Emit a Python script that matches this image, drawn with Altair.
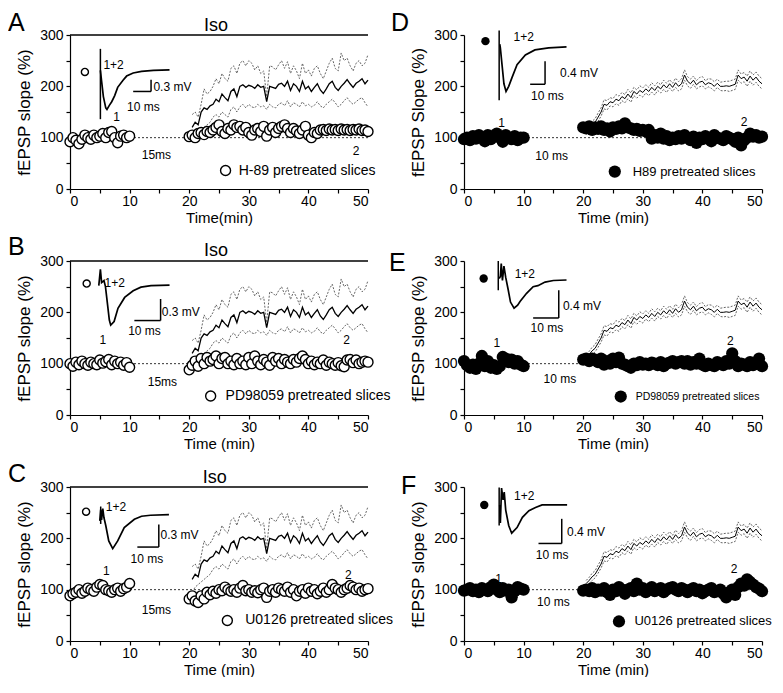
import altair as alt
import pandas as pd

FONT = "Liberation Sans"

# ---------------- time grids ----------------
base_t = [i * 0.5 for i in range(21)]          # 0 .. 10 min
post_t = [20 + i * 0.5 for i in range(61)]     # 20 .. 50 min
line_t = [20.5 + i * 0.5 for i in range(60)]   # 20.5 .. 50 min

# ---------------- scatter values (fEPSP slope %) ----------------
A_base = [92, 100, 95, 88, 97, 105, 100, 97, 105, 100, 103, 108, 100, 110, 112, 100, 90, 103, 105, 100, 103]
A_post = [102, 105, 100, 108, 110, 106, 112, 110, 115, 120,
          125, 112, 108, 118, 115, 125, 120, 122, 115, 120,
          110, 105, 115, 118, 112, 122, 103, 115, 120, 110,
          118, 122, 125, 118, 110, 118, 113, 108, 115, 122,
          105, 100, 110, 108, 115, 116, 114, 117, 115, 116,
          114, 117, 115, 116, 114, 116, 115, 117, 114, 115,
          112]
B_base = [100, 95, 103, 98, 105, 100, 97, 103, 100, 98, 107, 101, 104, 108, 98, 105, 100, 103, 97, 102, 93]
B_post = [88, 97, 105, 95, 110, 100, 112, 105, 108, 115,
          100, 110, 112, 100, 105, 98, 110, 100, 105, 98,
          112, 100, 115, 105, 98, 108, 103, 97, 112, 105,
          110, 100, 108, 103, 100, 108, 103, 110, 115, 108,
          100, 105, 98, 103, 100, 107, 97, 103, 100, 97,
          102, 96, 94, 107, 108, 102, 107, 100, 103, 105,
          103]
C_base = [88, 92, 95, 100, 93, 97, 103, 100, 97, 105, 110, 108, 100, 98, 95, 100, 103, 97, 102, 105, 112]
C_post = [82, 88, 78, 75, 88, 82, 95, 90, 97, 93,
          100, 98, 105, 100, 97, 100, 95, 103, 108, 98,
          100, 95, 98, 94, 100, 103, 85, 97, 100, 95,
          103, 100, 97, 105, 95, 100, 88, 97, 100, 93,
          103, 97, 100, 92, 97, 103, 95, 100, 110, 103,
          100, 95, 100, 103, 108, 105, 100, 103, 97, 100,
          102]
D_base = [97, 100, 95, 103, 98, 105, 100, 93, 105, 97, 103, 108, 100, 92, 105, 100, 97, 103, 95, 100, 100]
D_post = [120, 118, 122, 115, 120, 117, 122, 115, 118, 112,
          120, 117, 122, 118, 128, 120, 118, 115, 117, 113,
          115, 112, 115, 98, 105, 100, 108, 98, 103, 95,
          100, 97, 103, 98, 105, 100, 95, 102, 90, 100,
          97, 103, 98, 93, 105, 100, 98, 95, 103, 100,
          97, 92, 100, 85, 95, 100, 108, 102, 105, 100,
          102]
E_base = [105, 97, 92, 98, 90, 100, 115, 95, 105, 92, 97, 90, 95, 113, 110, 103, 108, 100, 105, 98, 95]
E_post = [108, 110, 105, 110, 108, 103, 110, 98, 105, 100,
          110, 103, 112, 100, 98, 95, 92, 100, 97, 103,
          98, 100, 97, 102, 100, 97, 103, 95, 100, 102,
          105, 100, 103, 105, 100, 105, 98, 103, 100, 110,
          98, 95, 100, 97, 95, 103, 100, 97, 105, 100,
          120, 105, 95, 100, 98, 95, 103, 97, 100, 110,
          95]
F_base = [98, 100, 103, 97, 100, 95, 103, 100, 97, 105, 110, 100, 95, 103, 98, 100, 85, 97, 105, 102, 100]
F_post = [98, 100, 97, 103, 95, 100, 98, 103, 95, 90,
          100, 97, 105, 100, 92, 100, 103, 97, 112, 100,
          103, 95, 100, 105, 97, 100, 103, 95, 100, 103,
          105, 100, 97, 103, 100, 95, 100, 103, 97, 100,
          93, 97, 100, 103, 95, 97, 100, 92, 85, 95,
          100, 90, 105, 112, 108, 120, 115, 110, 105, 102,
          97]

# ---------------- Iso (control) curves ----------------
iso_mean_L = [120, 130, 125, 150, 158, 155, 162, 165, 175, 170,
              185, 178, 172, 190, 195, 180, 200, 203, 198, 202,
              200, 196, 203, 198, 200, 170, 200, 198, 196, 204,
              206, 200, 210, 192, 205, 200, 190, 210, 195, 200,
              190, 198, 205, 193, 186, 195, 205, 210, 198, 192,
              200, 206, 213, 205, 198, 206, 210, 215, 205, 212]
iso_upper_L = [145, 150, 140, 165, 195, 185, 190, 200, 215, 205,
               225, 215, 210, 235, 240, 225, 245, 250, 240, 250,
               245, 232, 240, 225, 230, 180, 240, 238, 232, 242,
               250, 235, 248, 225, 240, 230, 215, 245, 225, 232,
               220, 235, 240, 225, 215, 230, 245, 255, 235, 230,
               265, 250, 255, 240, 230, 245, 250, 240, 245, 262]
iso_lower_L = [95, 105, 110, 115, 120, 125, 130, 140, 145, 140,
               150, 145, 140, 155, 160, 150, 160, 165, 158, 165,
               160, 158, 165, 160, 162, 155, 165, 160, 158, 165,
               168, 162, 172, 160, 168, 165, 160, 170, 162, 165,
               160, 163, 170, 162, 158, 165, 170, 175, 168, 160,
               165, 172, 178, 170, 165, 170, 175, 178, 168, 160]
iso_mean_R = [112, 118, 125, 130, 140, 150, 165, 163, 170, 168,
              175, 172, 180, 176, 185, 178, 190, 185, 192, 188,
              195, 190, 198, 192, 200, 195, 203, 197, 205, 198,
              207, 200, 205, 222, 210, 205, 212, 203, 208, 210,
              203, 207, 205, 200, 206, 200, 200, 201, 200, 202,
              204, 222, 215, 218, 210, 220, 212, 218, 210, 205]
iso_sem_R = [6, 6, 7, 7, 8, 8, 9, 9, 8, 8,
             9, 9, 8, 8, 9, 9, 8, 8, 9, 9,
             8, 8, 9, 9, 8, 8, 9, 9, 8, 8,
             9, 9, 10, 10, 9, 9, 8, 8, 9, 9,
             8, 8, 9, 9, 8, 8, 9, 9, 10, 10,
             10, 10, 9, 9, 10, 10, 10, 10, 10, 10]

# ---------------- inset fEPSP traces (drawn in panel units) ----------------
trace_A_t = [5.1, 5.3, 5.6, 6.0, 6.2, 6.6, 7.0, 7.5, 8.0, 8.9, 9.5, 10.6, 12, 14, 16.7]
trace_A_v = [231, 210, 180, 158, 155, 163, 170, 182, 198, 212, 220, 226, 229, 231, 232]
trace_B_t = [4.83, 5.1, 5.3, 5.7, 5.95, 6.3, 6.6, 6.83, 7.4, 8.05, 9.17, 10.6, 11.9, 13.6, 16.7]
trace_B_v = [252, 284, 258, 262, 250, 215, 185, 175, 182, 208, 229, 242, 249, 252, 253]
trace_C_t = [5.0, 5.15, 5.3, 5.5, 5.7, 6.0, 6.5, 7.17, 8.0, 9.1, 10.8, 12.0, 13.5, 16.6]
trace_C_v = [234, 256, 236, 258, 240, 225, 195, 180, 195, 221, 237, 243, 245, 246]
trace_D_t = [6.0, 6.1, 6.4, 6.7, 7.05, 7.5, 8.05, 8.9, 10.3, 11.9, 14.2, 17.2]
trace_D_v = [282, 275, 240, 205, 190, 200, 217, 242, 261, 271, 275, 277]
trace_E_t = [5.9, 6.1, 6.25, 6.45, 6.7, 7.0, 7.4, 7.8, 8.4, 9.0, 9.4, 10.5, 11.6, 12.4, 13.6, 15, 17.2]
trace_E_v = [266, 270, 295, 262, 290, 268, 245, 220, 208, 214, 221, 237, 250, 252, 259, 262, 263]
trace_F_t = [6.0, 6.1, 6.3, 6.55, 6.75, 7.0, 7.5, 8.0, 8.9, 9.8, 10.9, 12, 13.1, 17.3]
trace_F_v = [265, 230, 298, 275, 290, 255, 225, 210, 221, 241, 254, 260, 265, 265]

# stimulus artifacts and scale bars: (x, x2, y, y2)
rules_A = [(5.1, 5.1, 136, 273), (13.6, 13.6, 190, 213), (10.6, 13.6, 190, 190)]
rules_B = [(15.2, 15.2, 184, 226), (10.8, 15.2, 184, 184)]
rules_C = [(5.15, 5.15, 228, 262), (14.9, 14.9, 183, 227), (11.3, 14.9, 183, 183)]
rules_D = [(5.9, 5.9, 173, 309), (13.6, 13.6, 204, 249), (11.1, 13.6, 204, 204)]
rules_E = [(5.75, 5.75, 243, 300), (15.9, 15.9, 189, 243), (11.6, 15.9, 189, 189)]
rules_F = [(5.9, 5.9, 225, 299), (16.4, 16.4, 190, 238), (12.5, 16.4, 190, 190)]

# text annotations: (t, v, label, fontsize)
left_A = [(5.6, 241, "1+2", 12), (14.0, 199, "0.3 mV", 12), (28.3, 36, "H-89 pretreated slices", 14)]
center_A = [(12.3, 160, "10 ms", 12), (7.8, 141, "1", 12), (48, 75, "2", 12), (14.5, 67, "15ms", 12), (24.5, 317, "Iso", 18)]
left_B = [(5.8, 258, "1+2", 12), (15.4, 200, "0.3 mV", 12), (26.1, 37, "PD98059 pretreated slices", 14)]
center_B = [(12.5, 163, "10 ms", 12), (5.5, 146, "1", 12), (46.4, 146, "2", 12), (15.5, 65, "15ms", 12), (24.5, 319, "Iso", 18)]
left_C = [(6.0, 262, "1+2", 12), (15.2, 206, "0.3 mV", 12), (29.4, 40, "U0126 pretreated slices", 14)]
center_C = [(12.9, 160, "10 ms", 12), (6.1, 136, "1", 12), (46.7, 128, "2", 12), (14.5, 61, "15ms", 12), (24.3, 317, "Iso", 18)]
left_D = [(8.3, 296, "1+2", 12), (16.1, 226, "0.4 mV", 12), (28.3, 34, "H89 pretreated slices", 13)]
center_D = [(14.0, 182, "10 ms", 12), (6.3, 129, "1", 12), (47, 131, "2", 12), (14.7, 65, "10 ms", 12)]
left_E = [(8.5, 275, "1+2", 12), (16.6, 212, "0.4 mV", 12), (28.8, 36, "PD98059 pretreated slices", 10.5)]
center_E = [(13.9, 170, "10 ms", 12), (5.5, 141, "1", 12), (44.7, 145, "2", 12), (16.1, 71, "10 ms", 12)]
left_F = [(8.4, 283, "1+2", 12), (17.3, 213, "0.4 mV", 12), (28.6, 38, "U0126 pretreated slices", 13)]
center_F = [(14.8, 168, "10 ms", 12), (5.8, 120, "1", 12), (45.3, 140, "2", 12), (15.0, 76, "10 ms", 12)]

# symbol markers: (t, v, size)
marks_A = [(2.5, 228, 50), (26.1, 36, 100)]
marks_B = [(2.8, 256, 50), (23.6, 37, 100)]
marks_C = [(2.7, 252, 50), (26.4, 40, 100)]
marks_D = [(3.6, 288, 70), (25.3, 34, 150)]
marks_E = [(3.3, 266, 70), (26.3, 36, 150)]
marks_F = [(3.4, 265, 70), (26.0, 38, 150)]

W, H = 298, 154


def panel(letter, lxy, base, post, filled, trace_t, trace_v, rules, left, center, marks,
          curves, iso_bar, xtitle, ytitle):
    sx = alt.Scale(domain=[0, 50], nice=False)
    sy = alt.Scale(domain=[0, 300], nice=False)
    ax_x = alt.Axis(title=xtitle, values=list(range(0, 51, 5)),
                    labelExpr="datum.value % 10 == 0 ? datum.label : ''")
    ax_y = alt.Axis(title=ytitle, values=list(range(0, 301, 50)),
                    labelExpr="datum.value % 100 == 0 ? datum.label : ''")

    def X(f):
        return alt.X(f, type="quantitative", scale=sx, axis=ax_x)

    def Y(f):
        return alt.Y(f, type="quantitative", scale=sy, axis=ax_y)

    layers = []
    if iso_bar:
        layers.append(alt.Chart(pd.DataFrame({"x": [0], "x2": [50], "y": [300]}))
                      .mark_rule(color="black", strokeWidth=1.3)
                      .encode(x=X("x"), x2=alt.X2("x2"), y=Y("y")))
    layers.append(alt.Chart(pd.DataFrame({"t": [0, 50], "v": [100, 100]}))
                  .mark_line(color="#333", strokeDash=[2, 2], strokeWidth=1)
                  .encode(x=X("t"), y=Y("v")))
    mean, upper, lower = curves
    bands = pd.DataFrame({"t": line_t * 2, "v": upper + lower,
                          "s": ["u"] * len(line_t) + ["l"] * len(line_t)})
    layers.append(alt.Chart(bands).mark_line(color="#666", strokeDash=[2, 1.5], strokeWidth=1)
                  .encode(x=X("t"), y=Y("v"), detail="s:N"))
    layers.append(alt.Chart(pd.DataFrame({"t": line_t, "v": mean}))
                  .mark_line(color="black", strokeWidth=1.3 if iso_bar else 1)
                  .encode(x=X("t"), y=Y("v")))
    pts = pd.DataFrame({"t": base_t + post_t, "v": base + post})
    if filled:
        pm = alt.Chart(pts).mark_circle(color="black", opacity=1, size=150)
    else:
        pm = alt.Chart(pts).mark_circle(fill="white", stroke="black", strokeWidth=1.4,
                                        opacity=1, fillOpacity=1, size=100)
    layers.append(pm.encode(x=X("t"), y=Y("v")))
    tr = pd.DataFrame({"t": trace_t, "v": trace_v, "i": list(range(len(trace_t)))})
    layers.append(alt.Chart(tr).mark_line(color="black", strokeWidth=1.7)
                  .encode(x=X("t"), y=Y("v"), order="i:Q"))
    rd = pd.DataFrame(rules, columns=["x", "x2", "y", "y2"])
    layers.append(alt.Chart(rd).mark_rule(color="black", strokeWidth=1.5)
                  .encode(x=X("x"), x2=alt.X2("x2"), y=Y("y"), y2=alt.Y2("y2")))
    ld = pd.DataFrame(left, columns=["t", "v", "label", "fs"])
    layers.append(alt.Chart(ld).mark_text(align="left", baseline="middle", font=FONT, color="black")
                  .encode(x=X("t"), y=Y("v"), text="label:N",
                          size=alt.Size("fs:Q", scale=None, legend=None)))
    cd = pd.DataFrame(center, columns=["t", "v", "label", "fs"])
    layers.append(alt.Chart(cd).mark_text(align="center", baseline="middle", font=FONT, color="black")
                  .encode(x=X("t"), y=Y("v"), text="label:N",
                          size=alt.Size("fs:Q", scale=None, legend=None)))
    md = pd.DataFrame(marks, columns=["t", "v", "sz"])
    if filled:
        mm = alt.Chart(md).mark_circle(color="black", opacity=1)
    else:
        mm = alt.Chart(md).mark_circle(fill="white", stroke="black", strokeWidth=1.4,
                                       opacity=1, fillOpacity=1)
    layers.append(mm.encode(x=X("t"), y=Y("v"), size=alt.Size("sz:Q", scale=None, legend=None)))
    layers.append(alt.Chart(pd.DataFrame({"a": [0]}))
                  .mark_text(text=letter, align="left", baseline="alphabetic", font=FONT,
                             fontSize=25, color="black")
                  .encode(x=alt.value(lxy[0]), y=alt.value(lxy[1])))
    return alt.layer(*layers).properties(width=W, height=H)


left_curves = (iso_mean_L, iso_upper_L, iso_lower_L)
right_curves = (iso_mean_R,
                [m + s for m, s in zip(iso_mean_R, iso_sem_R)],
                [m - s for m, s in zip(iso_mean_R, iso_sem_R)])

pA = panel("A", (-62, -4), A_base, A_post, False, trace_A_t, trace_A_v, rules_A, left_A, center_A,
           marks_A, left_curves, True, "Time(min)", "fEPSP slope (%)")
pB = panel("B", (-62, -6), B_base, B_post, False, trace_B_t, trace_B_v, rules_B, left_B, center_B,
           marks_B, left_curves, True, "Time (min)", "fEPSP slope (%)")
pC = panel("C", (-62, -5), C_base, C_post, False, trace_C_t, trace_C_v, rules_C, left_C, center_C,
           marks_C, left_curves, True, "Time (min)", "fEPSP slope (%)")
pD = panel("D", (-73, -4), D_base, D_post, True, trace_D_t, trace_D_v, rules_D, left_D, center_D,
           marks_D, right_curves, False, "Time (min)", "fEPSP Slope (%)")
pE = panel("E", (-75, 10), E_base, E_post, True, trace_E_t, trace_E_v, rules_E, left_E, center_E,
           marks_E, right_curves, False, "Time (min)", "fEPSP slope (%)")
pF = panel("F", (-63, 7), F_base, F_post, True, trace_F_t, trace_F_v, rules_F, left_F, center_F,
           marks_F, right_curves, False, "Time (min)", "fEPSP slope (%)")

chart = (alt.concat(pA, pD, pB, pE, pC, pF, columns=2,
                    spacing={"row": 72, "column": 96}, bounds="flush")
         .properties(padding={"left": 0, "top": 3, "right": 0, "bottom": 0})
         .configure_view(stroke=None)
         .configure_axis(labelFont=FONT, titleFont=FONT, labelFontSize=14, titleFontSize=15,
                         titleFontWeight="normal", labelColor="black", titleColor="black",
                         domainColor="black", tickColor="black", tickSize=4, domainWidth=1.2,
                         tickWidth=1.2, grid=False)
         .configure_axisY(titlePadding=6, labelPadding=3, titleFontSize=17)
         .configure_axisX(labelPadding=1, titlePadding=2))

chart.save("out.html", embed_options={"renderer": "svg", "actions": False})
